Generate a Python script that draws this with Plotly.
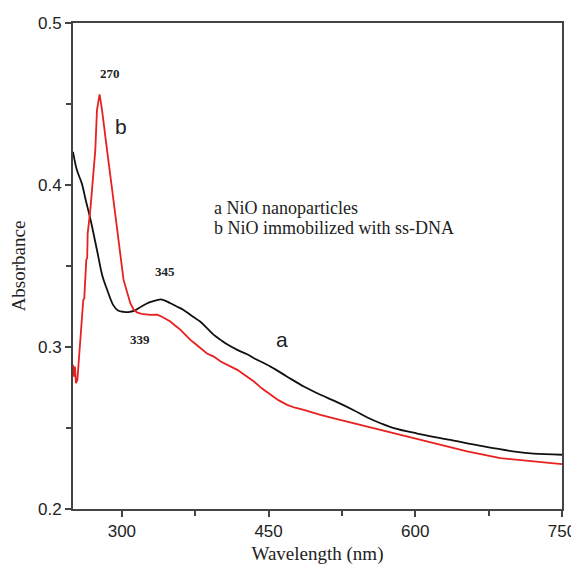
import plotly.graph_objects as go

# Curve a: NiO nanoparticles
wl_a = [250, 254, 259, 263, 268, 274.5, 280, 285, 291, 296, 302, 308, 314, 320, 328, 336, 341,
        349, 356, 363, 372, 380, 388, 394, 401, 408, 418, 428, 435, 452, 469, 486, 503, 520,
        537, 551, 565, 578, 602, 636, 670, 704, 721, 750]
abs_a = [0.4205, 0.4092, 0.4010, 0.3907, 0.3784, 0.3599, 0.3440, 0.3352, 0.3260, 0.3225, 0.3217,
         0.3217, 0.3228, 0.3250, 0.3275, 0.3290, 0.3293, 0.3272, 0.3250, 0.3229, 0.3190, 0.3157,
         0.3110, 0.3075, 0.3044, 0.3015, 0.2982, 0.2955, 0.2931, 0.2879, 0.2817, 0.2756, 0.2705,
         0.2660, 0.2610, 0.2565, 0.2528, 0.2499, 0.2466, 0.2426, 0.2386, 0.2352, 0.2342, 0.2335]

# Curve b: NiO immobilized with ss-DNA
wl_b = [250, 251, 252, 253, 254.5, 257, 259, 260.5, 261.5, 262.6, 263.6, 264.5, 265, 267.7, 270.4,
        272.8, 274.5, 277.2, 279.7, 282, 284.8, 289.2, 293.3, 297.6, 301.7, 308.6, 312, 315.4,
        320, 329, 336, 341, 345, 349.5, 355, 360, 365, 370, 375, 380, 387, 394, 401, 418, 426,
        435, 443, 452, 460, 469, 477, 486, 503, 520, 537, 551, 565, 585, 619, 653, 687, 721, 750]
abs_b = [0.2890, 0.2817, 0.2879, 0.2777, 0.2797, 0.3002, 0.3167, 0.3290, 0.3300, 0.3414, 0.3537,
         0.3550, 0.3700, 0.3845, 0.4050, 0.4215, 0.4462, 0.4559, 0.4462, 0.4338, 0.4215, 0.4010,
         0.3804, 0.3599, 0.3414, 0.3270, 0.3230, 0.3214, 0.3205, 0.3198, 0.3200, 0.3187,
         0.3175, 0.3157, 0.3130, 0.3106, 0.3075, 0.3044, 0.3020, 0.2993, 0.2960, 0.2941, 0.2910,
         0.2859, 0.2825, 0.2787, 0.2745, 0.2705, 0.2672, 0.2643, 0.2625, 0.2612, 0.2581, 0.2555,
         0.2530, 0.2505, 0.2488, 0.2459, 0.2407, 0.2355, 0.2314, 0.2293, 0.2277]

x_ticks = [300, 450, 600, 750]
y_ticks = [0.2, 0.3, 0.4, 0.5]
y_tick_text = ["0.2", "0.3", "0.4", "0.5"]

peak_labels = [("270", 287.4, 0.4688), ("345", 344.4, 0.3465), ("339", 318.1, 0.3048)]
curve_labels = [("b", 298.7, 0.4359), ("a", 463.7, 0.3048)]
legend_lines = [("a NiO nanoparticles", 392.1, 0.3861),
                ("b NiO immobilized with ss-DNA", 392.1, 0.3736)]

fig = go.Figure()
fig.add_trace(go.Scatter(x=wl_a, y=abs_a, mode="lines", line=dict(color="#111111", width=1.8),
                         line_shape="spline", showlegend=False))
fig.add_trace(go.Scatter(x=wl_b, y=abs_b, mode="lines", line=dict(color="#e8201f", width=1.8),
                         showlegend=False))

for txt, x, y in peak_labels:
    fig.add_annotation(x=x, y=y, text="<b>" + txt + "</b>", showarrow=False,
                       font=dict(family="Liberation Serif", size=13, color="#222"))
for txt, x, y in curve_labels:
    fig.add_annotation(x=x, y=y, text=txt, showarrow=False,
                       font=dict(family="Liberation Sans", size=21, color="#222"))
for txt, x, y in legend_lines:
    fig.add_annotation(x=x, y=y, text=txt, showarrow=False, xanchor="left",
                       font=dict(family="Liberation Serif", size=18, color="#222"))

axis_common = dict(showline=True, linecolor="#444", linewidth=2, mirror=True,
                   ticks="outside", tickcolor="#444", tickwidth=2, ticklen=6,
                   showgrid=False, zeroline=False, automargin=False,
                   tickfont=dict(family="Liberation Sans", size=17, color="#222"),
                   title_font=dict(family="Liberation Serif", size=19, color="#222"))

fig.update_xaxes(range=[250, 750], tickvals=x_ticks, title_text="Wavelength (nm)",
                 minor=dict(tickvals=[375, 525, 675], ticklen=5, tickcolor="#444", tickwidth=2, ticks="outside"),
                 title_standoff=6, **axis_common)
fig.update_yaxes(range=[0.2, 0.5], tickvals=y_ticks, ticktext=y_tick_text, title_text="Absorbance",
                 minor=dict(tickvals=[0.25, 0.35, 0.45], ticklen=5, tickcolor="#444", tickwidth=2, ticks="outside"),
                 title_standoff=8, **axis_common)

# the page body adds an 8px offset, so the figure is sized to fill the rest of the window
fig.update_layout(width=571, height=563, margin=dict(l=65, r=17, t=15, b=62),
                  plot_bgcolor="white", paper_bgcolor="white")

fig.write_html("out.html")
